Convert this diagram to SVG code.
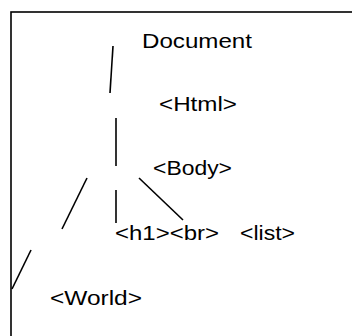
<svg xmlns="http://www.w3.org/2000/svg" width="352" height="336" viewBox="0 0 352 336">
<style>
.t{font-family:"Liberation Sans",Arial,sans-serif;font-size:21px;fill:#000}
.c{stroke:#000;stroke-width:1.6;fill:none}
</style>
<rect x="0" y="0" width="352" height="336" fill="#fff"/>
<rect x="11" y="12" width="400" height="400" fill="none" stroke="#000" stroke-width="1.6"/>
<g id="connectors">
<line class="c" x1="113" y1="46" x2="110" y2="93"/>
<line class="c" x1="116" y1="118" x2="116" y2="166"/>
<line class="c" x1="116" y1="190" x2="116" y2="223"/>
<line class="c" x1="139" y1="178" x2="183" y2="220"/>
<line class="c" x1="87" y1="178" x2="62" y2="229"/>
<line class="c" x1="31" y1="250" x2="12" y2="289"/>
</g>
<g id="document"><text class="t" x="142" y="48" textLength="110" lengthAdjust="spacingAndGlyphs">Document</text></g>
<g id="html"><text class="t" x="159" y="111" textLength="78" lengthAdjust="spacingAndGlyphs">&lt;Html&gt;</text></g>
<g id="body"><text class="t" x="153" y="175" textLength="79" lengthAdjust="spacingAndGlyphs">&lt;Body&gt;</text></g>
<g id="h1br"><text class="t" x="115" y="240" textLength="104" lengthAdjust="spacingAndGlyphs">&lt;h1&gt;&lt;br&gt;</text></g>
<g id="list"><text class="t" x="240" y="240" textLength="55" lengthAdjust="spacingAndGlyphs">&lt;list&gt;</text></g>
<g id="world"><text class="t" x="50" y="305" textLength="92" lengthAdjust="spacingAndGlyphs">&lt;World&gt;</text></g>
</svg>
